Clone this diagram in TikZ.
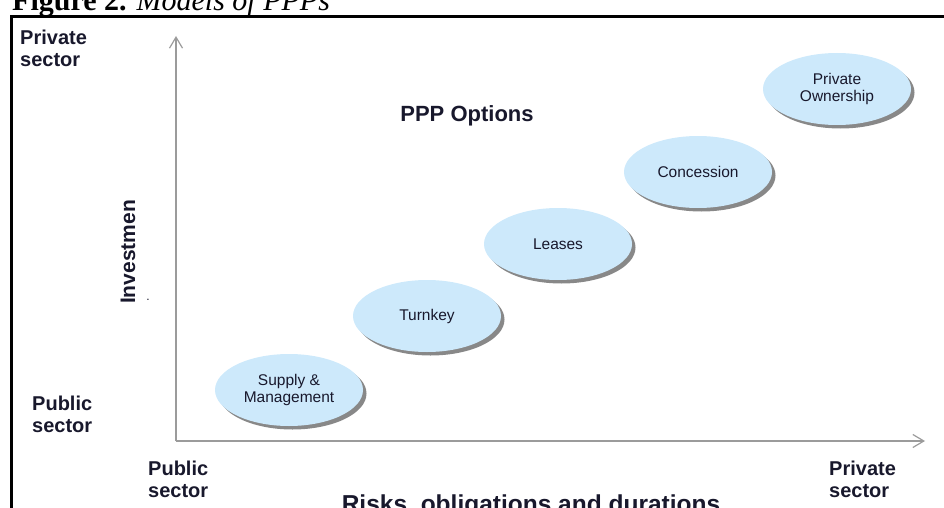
\documentclass[tikz,border=0pt]{standalone}
\usepackage{fontspec}
\setmainfont{Liberation Serif}
\newfontfamily\arialf{Liberation Sans}
\usetikzlibrary{shapes.geometric,shadows,arrows.meta}
\definecolor{labcol}{RGB}{24,24,44}
\definecolor{ellfill}{RGB}{205,233,251}
\definecolor{axiscol}{RGB}{155,155,155}
\tikzset{
  axisline/.style={draw=axiscol, line width=1.5pt, -{Straight Barb[length=11pt,width=13pt,line width=1.2pt]}},
  sectorlab/.style={anchor=base west, inner sep=0pt, text=labcol, font=\arialf\bfseries\fontsize{20}{22}\selectfont},
  option/.style={ellipse, minimum width=148pt, minimum height=72pt, inner sep=0pt,
    fill=ellfill, text=labcol, align=center,
    font=\arialf\fontsize{15.5}{17.5}\selectfont,
    drop shadow={shadow xshift=3.5pt, shadow yshift=-3.5pt, fill=black!55, opacity=.85}},
}
\newcommand{\twolines}[2]{\begin{tabular}[t]{@{}l@{}}#1\\[0pt]#2\end{tabular}}
\begin{document}
\begin{tikzpicture}[x=1pt,y=-1pt]
\useasboundingbox (0,0) rectangle (944,508);
\clip (0,0) rectangle (944,508);
% caption
\node[anchor=base west, inner sep=0pt, font=\fontsize{30}{34}\selectfont] (cap) at (12,10.5)
  {\textbf{Figure 2.} \textit{Models of PPPs}};
% frame
\draw[line width=3pt] (11.5,520) -- (11.5,16.5) -- (960,16.5);
% axes
\coordinate (O) at (176,441);
\coordinate (ytop) at (176,36);
\coordinate (xend) at (925,441);
\draw[axisline] (O) -- (ytop);
\draw[axisline] (O) -- (xend);
% corner labels
\node[sectorlab] (pvtl) at (20,45) {\twolines{Private}{sector}};
\node[sectorlab] (publ) at (32,410) {\twolines{Public}{sector}};
\node[sectorlab] (pubb) at (148,475) {\twolines{Public}{sector}};
\node[sectorlab] (pvtb) at (829,475) {\twolines{Private}{sector}};
% axis titles
\node[rotate=90, inner sep=0pt, text=labcol, font=\arialf\bfseries\fontsize{21}{24}\selectfont] (inv) at (128,252) {Investmen};
\node[inner sep=0pt, text=labcol, font=\arialf\fontsize{12}{14}\selectfont] (dot) at (148,300) {.};
\node[anchor=base, inner sep=0pt, text=labcol, font=\arialf\bfseries\fontsize{24.5}{28}\selectfont] (risk) at (531,512) {Risks, obligations and durations};
\node[inner sep=0pt, text=labcol, font=\arialf\bfseries\fontsize{22}{26}\selectfont] (ppp) at (467,116) {PPP Options};
% options
\node[option] (sup) at (289,390) {Supply \&\\Management};
\node[option] (turn) at (427,316) {Turnkey};
\node[option] (lease) at (558,244) {Leases};
\node[option] (conc) at (698,172) {Concession};
\node[option] (own) at (837,89) {Private\\Ownership};
\end{tikzpicture}
\end{document}
